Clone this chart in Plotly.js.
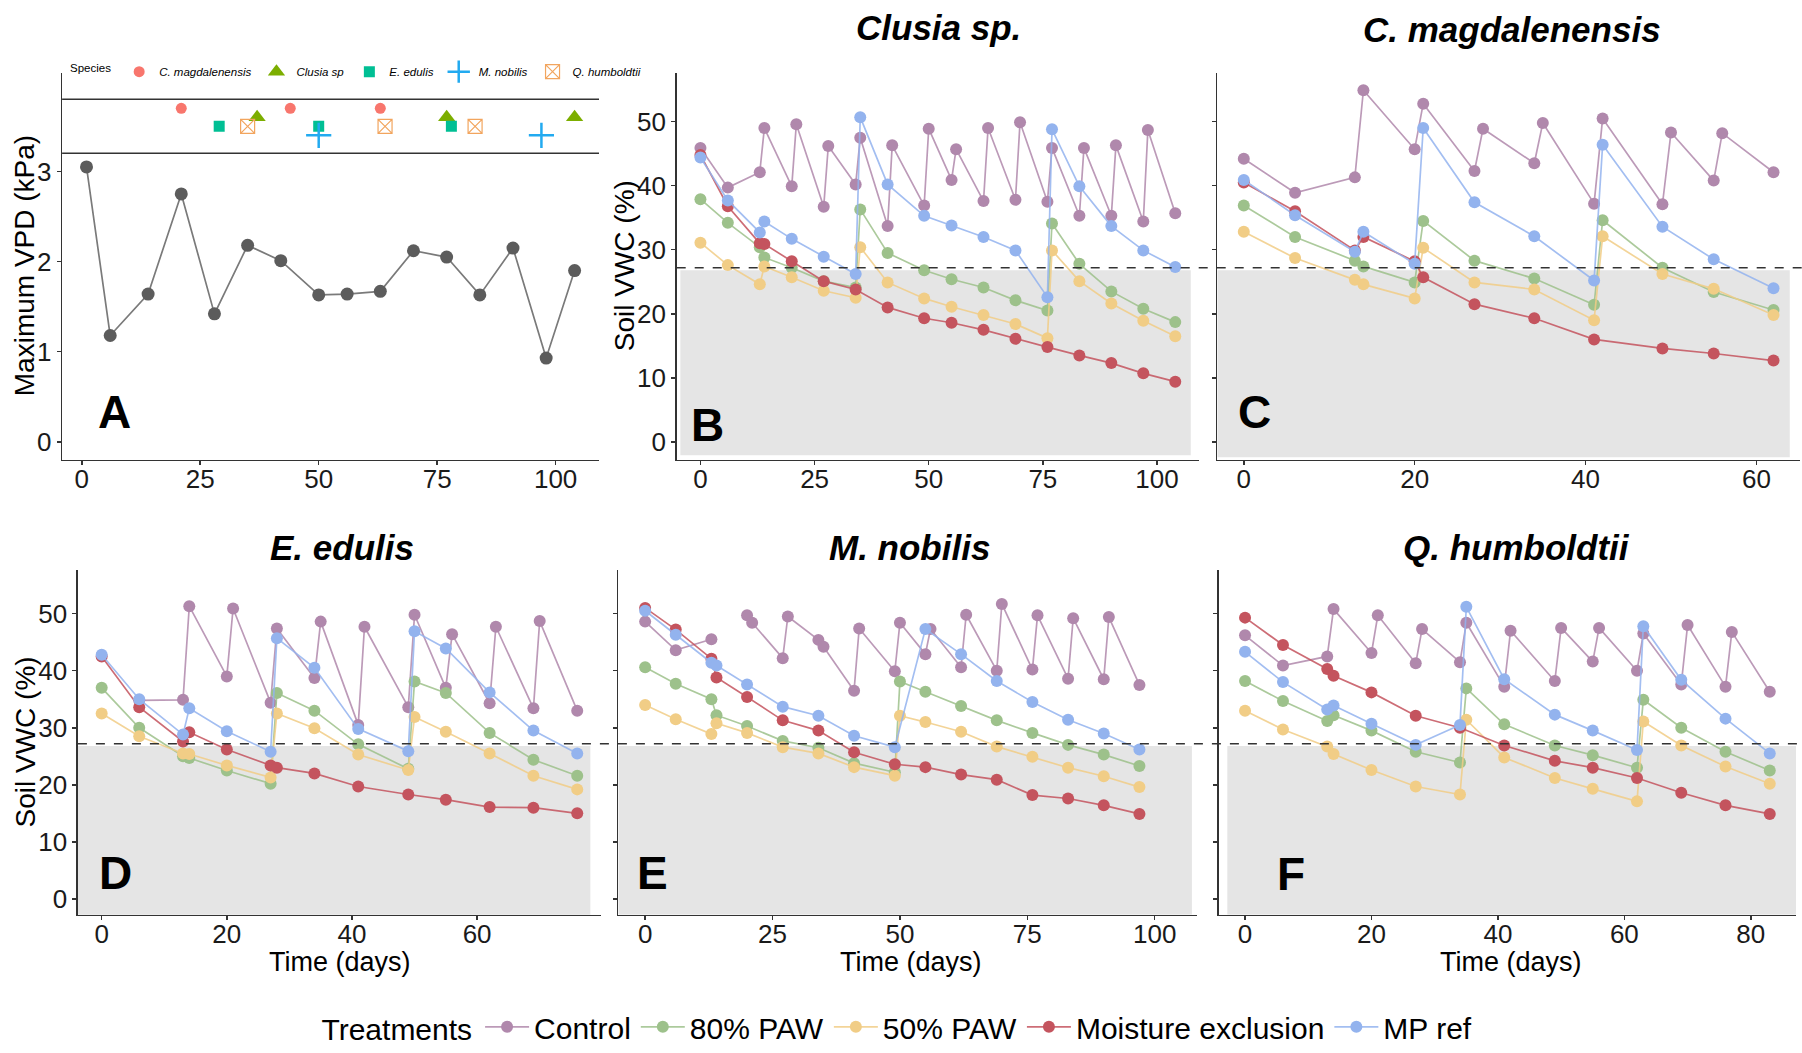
<!DOCTYPE html>
<html>
<head>
<meta charset="utf-8">
<script src="https://cdn.plot.ly/plotly-3.0.1.min.js"></script>
<style>html,body{margin:0;padding:0;background:#fff;overflow:hidden}#chart{width:1802px;height:1053px}</style>
</head>
<body>
<div id="chart"></div>
<script>
// ---------------- DATA ----------------
const treatments = ['Control', '80% PAW', '50% PAW', 'Moisture exclusion', 'MP ref'];
const speciesNames = ['C. magdalenensis', 'Clusia sp', 'E. edulis', 'M. nobilis', 'Q. humboldtii'];

// Panel A: maximum VPD
const vpdDays = [1, 6, 14, 21, 28, 35, 42, 50, 56, 63, 70, 77, 84, 91, 98, 104];
const vpdValues = [3.05, 1.18, 1.64, 2.75, 1.42, 2.18, 2.01, 1.63, 1.64, 1.67, 2.12, 2.05, 1.63, 2.15, 0.93, 1.90];
const magdalenensisDays = [21, 44, 63];       const magdalenensisLevel = [3.7, 3.7, 3.7];
const clusiaMarkDays = [37, 77, 104];         const clusiaMarkLevel = [3.6, 3.6, 3.6];
const edulisMarkDays = [29, 50, 78];          const edulisMarkLevel = [3.5, 3.5, 3.5];
const nobilisMarkDays = [50, 97];             const nobilisMarkLevel = [3.4, 3.4];
const humboldtiiMarkDays = [35, 64, 83];      const humboldtiiMarkLevel = [3.5, 3.5, 3.5];
const vpdBand = [3.2, 3.8];
const vwcThreshold = 27.2;

// Panel B: Clusia sp.
const clusiaControlDays = [0,6,13,14,20,21,27,28,34,35,41,42,49,50,55,56,62,63,69,70,76,77,83,84,90,91,97,98,104];
const clusiaControl = [45.9,39.7,42.1,49.0,39.9,49.6,36.7,46.2,40.2,47.5,33.7,46.3,36.9,48.9,40.9,45.7,37.6,49.0,37.8,49.9,37.5,45.9,35.3,45.9,35.3,46.3,34.4,48.7,35.7];
const clusiaPawDays = [0,6,13,14,20,27,34,35,41,49,55,62,69,76,77,83,90,97,104];
const clusiaPaw80 = [37.9,34.2,30.4,28.8,27.2,25.1,24.1,36.3,29.5,26.8,25.4,24.1,22.1,20.5,34.1,27.8,23.5,20.8,18.7];
const clusiaPaw50 = [31.1,27.6,24.6,27.4,25.7,23.6,22.5,30.4,24.9,22.4,21.1,19.8,18.4,16.2,29.9,25.1,21.6,18.9,16.5];
const clusiaExclDays = [0,6,13,14,20,27,34,41,49,55,62,69,76,83,90,97,104];
const clusiaExcl = [44.8,36.8,31.0,30.9,28.2,25.1,23.8,21.0,19.3,18.6,17.5,16.1,14.8,13.5,12.3,10.7,9.4];
const clusiaMpDays = [0,6,13,14,20,27,34,35,41,49,55,62,69,76,77,83,90,97,104];
const clusiaMp = [44.4,37.7,32.7,34.4,31.7,28.9,26.2,50.7,40.2,35.3,33.8,32.0,29.9,22.6,48.8,39.9,33.7,29.9,27.3];

// Panel C: C. magdalenensis
const magControlDays = [0,6,13,14,20,21,27,28,34,35,41,42,49,50,55,56,62];
const magControl = [44.2,38.9,41.3,54.9,45.7,52.8,42.3,48.9,43.5,49.8,37.2,50.5,37.1,48.3,40.8,48.2,42.1];
const magPawDays = [0,6,13,14,20,21,27,34,41,42,49,55,62];
const magPaw80 = [36.9,32.0,28.3,27.4,24.9,34.5,28.3,25.5,21.4,34.6,27.2,23.4,20.6];
const magPaw50 = [32.8,28.7,25.3,24.6,22.4,30.3,24.9,23.8,19.0,32.1,26.2,23.9,19.8];
const magExclDays = [0,6,13,14,20,21,27,34,41,49,55,62];
const magExcl = [40.5,36.0,29.9,32.0,28.2,25.7,21.5,19.3,16.0,14.6,13.8,12.7];
const magMpDays = [0,6,13,14,20,21,27,34,41,42,49,55,62];
const magMp = [40.9,35.4,29.7,32.8,27.8,49.0,37.4,32.1,25.2,46.4,33.6,28.5,24.0];

// Panel D: E. edulis
const edulisControlDays = [6,13,14,20,21,27,28,34,35,41,42,49,50,55,56,62,63,69,70,76];
const edulisControl = [34.8,34.9,51.3,39.0,50.9,34.4,47.4,38.7,48.6,30.5,47.7,33.6,49.8,37.0,46.4,34.3,47.7,33.4,48.7,33.0];
const edulisPawDays = [0,6,13,14,20,27,28,34,41,49,50,55,62,69,76];
const edulisPaw80 = [37.0,30.0,25.0,24.7,22.5,20.2,36.1,33.0,27.1,22.8,38.1,36.1,29.1,24.4,21.6];
const edulisPaw50 = [32.5,28.5,25.5,25.4,23.4,21.3,32.5,29.9,25.3,22.6,31.9,29.3,25.5,21.6,19.2];
const edulisExclDays = [0,6,13,14,20,27,28,34,41,49,55,62,69,76];
const edulisExcl = [42.5,33.6,27.6,29.2,26.2,23.4,23.0,22.0,19.7,18.3,17.4,16.1,16.0,15.0];
const edulisMpDays = [0,6,13,14,20,27,28,34,41,49,50,55,62,69,76];
const edulisMp = [42.8,35.0,28.8,33.4,29.4,25.8,45.7,40.5,29.8,25.9,46.9,43.9,36.2,29.5,25.5];

// Panel E: M. nobilis (control has a gap at day 14)
const nobilisControlDays = [0,6,13,14,20,21,27,28,34,35,41,42,49,50,55,56,62,63,69,70,76,77,83,84,90,91,97];
const nobilisControl = [48.6,43.6,45.5,null,49.7,48.4,42.2,49.5,45.4,44.2,36.5,47.4,39.9,48.4,42.9,47.3,40.6,49.8,40.0,51.7,40.2,49.7,38.6,49.2,38.5,49.4,37.5];
const nobilisPawDays = [0,6,13,14,20,27,34,41,49,50,55,62,69,76,83,90,97];
const nobilisPaw80 = [40.6,37.7,35.0,32.2,30.3,27.7,26.5,23.8,22.2,38.1,36.3,33.8,31.3,29.1,27.0,25.3,23.3];
const nobilisPaw50 = [34.0,31.5,28.9,30.8,29.1,26.6,25.5,23.1,21.6,32.1,31.0,29.3,26.7,24.9,23.0,21.5,19.6];
const nobilisExclDays = [0,6,13,14,20,27,34,41,49,55,62,69,76,83,90,97];
const nobilisExcl = [51.0,47.2,42.1,38.8,35.4,31.3,29.5,25.7,23.6,23.1,21.8,20.9,18.2,17.6,16.4,14.9];
const nobilisMpDays = [0,6,13,14,20,27,34,41,49,55,62,69,76,83,90,97];
const nobilisMp = [50.5,46.3,41.4,40.9,37.6,33.7,32.1,28.6,26.6,47.3,42.9,38.2,34.5,31.4,29.0,26.2];

// Panel F: Q. humboldtii
const humbControlDays = [0,6,13,14,20,21,27,28,34,35,41,42,49,50,55,56,62,63,69,70,76,77,83];
const humbControl = [46.2,40.9,42.5,50.8,43.1,49.7,41.3,47.3,41.5,48.4,37.2,47.0,38.2,47.5,41.6,47.5,40.0,46.5,37.6,48.0,37.2,46.8,36.3];
const humbPawDays = [0,6,13,14,20,27,34,35,41,49,55,62,63,69,76,83];
const humbPaw80 = [38.2,34.7,31.2,32.2,29.5,25.8,23.9,36.9,30.6,26.9,25.2,23.0,34.9,30.0,25.8,22.5];
const humbPaw50 = [33.0,29.7,26.7,25.4,22.6,19.7,18.3,31.4,24.8,21.2,19.3,17.1,31.1,26.9,23.2,20.2];
const humbExclDays = [0,6,13,14,20,27,34,41,49,55,62,69,76,83];
const humbExcl = [49.3,44.5,40.3,39.1,36.2,32.1,30.0,26.9,24.2,23.0,21.2,18.6,16.4,14.9];
const humbMpDays = [0,6,13,14,20,27,34,35,41,49,55,62,63,69,76,83];
const humbMp = [43.3,38.0,33.2,33.9,30.7,27.0,30.5,51.2,38.5,32.3,29.5,26.1,47.8,38.4,31.6,25.5];

// ---------------- STYLE ----------------
const FONT = 'Liberation Sans, Arial, sans-serif';
const W = 1802, H = 1053;
const treatColors = ['#B088AC', '#9DC18B', '#F1CD86', '#C4545E', '#93B3EE'];
const treatLine = ['rgba(176,136,172,0.85)', 'rgba(157,193,139,0.85)', 'rgba(241,205,134,0.85)', 'rgba(196,84,94,0.85)', 'rgba(147,179,238,0.85)'];

const panels = [
  {ax: '2', series: [[clusiaControlDays, clusiaControl], [clusiaPawDays, clusiaPaw80], [clusiaPawDays, clusiaPaw50], [clusiaExclDays, clusiaExcl], [clusiaMpDays, clusiaMp]]},
  {ax: '3', series: [[magControlDays, magControl], [magPawDays, magPaw80], [magPawDays, magPaw50], [magExclDays, magExcl], [magMpDays, magMp]]},
  {ax: '4', series: [[edulisControlDays, edulisControl], [edulisPawDays, edulisPaw80], [edulisPawDays, edulisPaw50], [edulisExclDays, edulisExcl], [edulisMpDays, edulisMp]]},
  {ax: '5', series: [[nobilisControlDays, nobilisControl], [nobilisPawDays, nobilisPaw80], [nobilisPawDays, nobilisPaw50], [nobilisExclDays, nobilisExcl], [nobilisMpDays, nobilisMp]]},
  {ax: '6', series: [[humbControlDays, humbControl], [humbPawDays, humbPaw80], [humbPawDays, humbPaw50], [humbExclDays, humbExcl], [humbMpDays, humbMp]]}
];

const traces = [];
// VPD line
traces.push({x: vpdDays, y: vpdValues, xaxis: 'x', yaxis: 'y', mode: 'lines+markers', showlegend: false,
  line: {color: '#7a7a7a', width: 1.7}, marker: {color: '#5c5c5c', size: 13}, hoverinfo: 'x+y'});
// Species markers (legend2)
const speciesSpecs = [
  [magdalenensisDays, magdalenensisLevel, {symbol: 'circle', color: '#F8766D', size: 11}],
  [clusiaMarkDays, clusiaMarkLevel, {symbol: 'triangle-up', color: '#7CAE00', size: 15}],
  [edulisMarkDays, edulisMarkLevel, {symbol: 'square', color: '#00BF94', size: 11}],
  [nobilisMarkDays, nobilisMarkLevel, {symbol: 'cross-thin', size: 18, color: '#22AAF0', line: {color: '#22AAF0', width: 2.5}}],
  [humboldtiiMarkDays, humboldtiiMarkLevel, {symbol: 'square-x-open', size: 14, color: '#F2A55E', line: {color: '#F2A55E', width: 1.2}}]
];
speciesSpecs.forEach((s, i) => {
  traces.push({x: s[0], y: s[1], xaxis: 'x', yaxis: 'y', mode: 'markers', name: speciesNames[i],
    legend: 'legend2', marker: s[2], hoverinfo: 'x+name'});
});
// Soil VWC panels
panels.forEach((p, pi) => {
  p.series.forEach((s, ti) => {
    traces.push({x: s[0], y: s[1], xaxis: 'x' + p.ax, yaxis: 'y' + p.ax, mode: 'lines+markers',
      name: treatments[ti], legendgroup: treatments[ti], showlegend: pi === 0, connectgaps: false,
      line: {color: treatLine[ti], width: 1.7}, marker: {color: treatColors[ti], size: 12},
      hovertemplate: treatments[ti] + ': %{y}<extra></extra>'});
  });
});

const px = v => v / W;
const py = v => 1 - v / H;
const axBase = {showline: true, linecolor: '#333', linewidth: 1.5, ticks: 'outside', ticklen: 4, tickwidth: 1.5,
  tickcolor: '#333', showgrid: false, zeroline: false, ticklabelstandoff: -8,
  tickfont: {family: FONT, size: 26, color: '#1a1a1a'}, fixedrange: true};
const row1 = [py(461.7), py(73)], row2 = [py(919), py(572.7)];
const vwcRange = [-2.75, 57.65];
const vwcTicks = [0, 10, 20, 30, 40, 50];
const yBase = Object.assign({}, axBase, {ticklabelstandoff: 0});

const layout = {
  width: W, height: H, margin: {l: 0, r: 0, t: 0, b: 0}, paper_bgcolor: '#fff', plot_bgcolor: 'rgba(0,0,0,0)',
  font: {family: FONT, color: '#000'},
  xaxis: Object.assign({}, axBase, {domain: [px(62.1), px(599)], range: [-4.15, 109.15], tickvals: [0, 25, 50, 75, 100], anchor: 'y'}),
  yaxis: Object.assign({}, yBase, {domain: row1, range: [-0.195, 4.095], tickvals: [0, 1, 2, 3], anchor: 'x'}),
  xaxis2: Object.assign({}, axBase, {domain: [px(676.7), px(1199)], range: [-5.2, 109.2], tickvals: [0, 25, 50, 75, 100], anchor: 'y2'}),
  yaxis2: Object.assign({}, yBase, {domain: row1, range: vwcRange, tickvals: vwcTicks, anchor: 'x2'}),
  xaxis3: Object.assign({}, axBase, {domain: [px(1217.3), px(1800)], range: [-3.1, 65.1], tickvals: [0, 20, 40, 60], anchor: 'y3'}),
  yaxis3: Object.assign({}, yBase, {domain: row1, range: vwcRange, tickvals: vwcTicks, showticklabels: false, anchor: 'x3'}),
  xaxis4: Object.assign({}, axBase, {domain: [px(77.9), px(601)], range: [-3.8, 79.8], tickvals: [0, 20, 40, 60], anchor: 'y4'}),
  yaxis4: Object.assign({}, yBase, {domain: row2, range: vwcRange, tickvals: vwcTicks, anchor: 'x4'}),
  xaxis5: Object.assign({}, axBase, {domain: [px(618.3), px(1197)], range: [-5.27, 108.3], tickvals: [0, 25, 50, 75, 100], anchor: 'y5'}),
  yaxis5: Object.assign({}, yBase, {domain: row2, range: vwcRange, tickvals: vwcTicks, showticklabels: false, anchor: 'x5'}),
  xaxis6: Object.assign({}, axBase, {domain: [px(1218.8), px(1796)], range: [-4.15, 87.15], tickvals: [0, 20, 40, 60, 80], anchor: 'y6'}),
  yaxis6: Object.assign({}, yBase, {domain: row2, range: vwcRange, tickvals: vwcTicks, showticklabels: false, anchor: 'x6'}),
  legend: {orientation: 'h', x: 0.4986, xanchor: 'center', y: py(1031.7), yanchor: 'middle', bgcolor: 'rgba(0,0,0,0)',
    font: {family: FONT, size: 30, color: '#000'}, itemwidth: 44,
    title: {text: 'Treatments', side: 'left', font: {family: FONT, size: 30, color: '#000'}}},
  legend2: {orientation: 'h', x: px(68), xanchor: 'left', y: py(72), yanchor: 'middle', bgcolor: 'rgba(0,0,0,0)',
    font: {family: FONT, size: 11.5, color: '#000', style: 'italic'}, itemwidth: 30,
    title: {text: 'Species', side: 'left', font: {family: FONT, size: 11.5, color: '#000', style: 'normal'}}},
  shapes: [],
  annotations: []
};

// Band lines in panel A
vpdBand.forEach(v => layout.shapes.push({type: 'line', xref: 'x domain', yref: 'y', x0: 0, x1: 1, y0: v, y1: v,
  line: {color: '#333', width: 1.5}, layer: 'below'}));
// Grey deficit areas below the threshold
const greyRects = [
  ['2', -4.4, 107.4, -2.1], ['3', -3.1, 63.9, -2.4], ['4', -4.6, 78.1, -3.1], ['5', -5.27, 107.3, -2.75], ['6', -2.8, 87.15, -2.75]
];
greyRects.forEach(r => layout.shapes.push({type: 'rect', xref: 'x' + r[0], yref: 'y' + r[0], x0: r[1], x1: r[2], y0: r[3], y1: 26.8,
  fillcolor: '#E5E5E5', line: {width: 0}, layer: 'below'}));
// Dashed threshold lines across each row
layout.shapes.push({type: 'line', xref: 'paper', yref: 'y2', x0: px(676.7), x1: 1, y0: vwcThreshold, y1: vwcThreshold,
  line: {color: '#333', width: 1.5, dash: 'dash'}});
layout.shapes.push({type: 'line', xref: 'paper', yref: 'y4', x0: px(77.9), x1: 1, y0: vwcThreshold, y1: vwcThreshold,
  line: {color: '#333', width: 1.5, dash: 'dash'}});

function ann(text, x, y, size, extra) {
  layout.annotations.push(Object.assign({text: text, x: px(x), y: py(y), xref: 'paper', yref: 'paper', showarrow: false,
    xanchor: 'center', yanchor: 'middle', font: {family: FONT, size: size, color: '#000'}}, extra || {}));
}
// Panel titles
ann('<b><i>Clusia sp.</i></b>', 938, 28, 35);
ann('<b><i>C. magdalenensis</i></b>', 1512, 30, 35);
ann('<b><i>E. edulis</i></b>', 342, 550, 35);
ann('<b><i>M. nobilis</i></b>', 909, 550, 35);
ann('<b><i>Q. humboldtii</i></b>', 1516, 550, 35);
// Panel letters
ann('<b>A</b>', 114.7, 414, 46);
ann('<b>B</b>', 707, 427, 46);
ann('<b>C</b>', 1254, 414, 46);
ann('<b>D</b>', 115.5, 877.5, 46);
ann('<b>E</b>', 652.5, 877.5, 46);
ann('<b>F</b>', 1291.4, 878, 46);
// Axis titles
ann('Maximum VPD (kPa)', 24.5, 267, 28, {textangle: -90});
ann('Soil VWC (%)', 624, 267.5, 28, {textangle: -90});
ann('Soil VWC (%)', 25, 746, 28, {textangle: -90});
ann('Time (days)', 340, 967, 27);
ann('Time (days)', 911, 967, 27);
ann('Time (days)', 1511, 967, 27);

Plotly.newPlot('chart', traces, layout, {displayModeBar: false, responsive: false, staticPlot: true});
</script>
</body>
</html>
